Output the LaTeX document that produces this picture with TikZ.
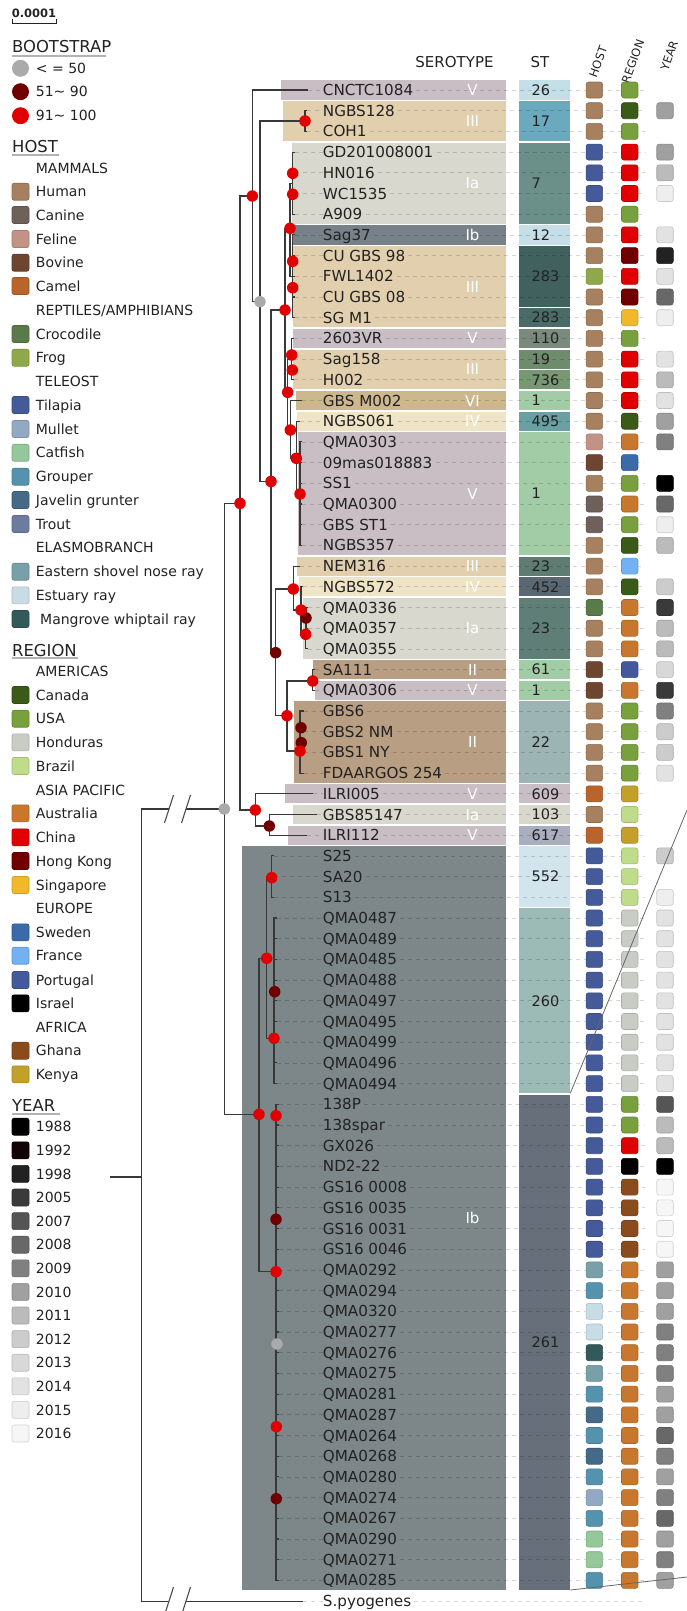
\documentclass[tikz,border=0pt]{standalone}
\usepackage{fontspec}
\setmainfont{DejaVu Sans}
\usetikzlibrary{calc}
\pgfdeclarelayer{bg}\pgfdeclarelayer{mid}\pgfsetlayers{bg,mid,main}
% host
\definecolor{hHuman}{HTML}{A6805F}\definecolor{hCanine}{HTML}{6E605B}\definecolor{hFeline}{HTML}{C29385}
\definecolor{hBovine}{HTML}{6E4630}\definecolor{hCamel}{HTML}{B8642A}\definecolor{hCroc}{HTML}{5A7A4A}
\definecolor{hFrog}{HTML}{8FA84A}\definecolor{hTilapia}{HTML}{455A98}\definecolor{hMullet}{HTML}{93A8C2}
\definecolor{hCatfish}{HTML}{94C89A}\definecolor{hGrouper}{HTML}{5592AE}\definecolor{hJavelin}{HTML}{456A88}
\definecolor{hTrout}{HTML}{6C7C9E}\definecolor{hESNR}{HTML}{78A0A8}\definecolor{hEstuary}{HTML}{C8DCE5}
\definecolor{hMangrove}{HTML}{335A5A}
% region
\definecolor{rCanada}{HTML}{3A5A18}\definecolor{rUSA}{HTML}{78A03C}\definecolor{rHonduras}{HTML}{C8CCC4}
\definecolor{rBrazil}{HTML}{BEDC8A}\definecolor{rAustralia}{HTML}{C8782E}\definecolor{rChina}{HTML}{E00000}
\definecolor{rHK}{HTML}{700000}\definecolor{rSingapore}{HTML}{F0B82A}\definecolor{rSweden}{HTML}{3A6AA8}
\definecolor{rFrance}{HTML}{72B2F2}\definecolor{rPortugal}{HTML}{44589C}\definecolor{rIsrael}{HTML}{000000}
\definecolor{rGhana}{HTML}{8A4C1C}\definecolor{rKenya}{HTML}{C2A02A}
% year
\definecolor{y1988}{HTML}{000000}\definecolor{y1992}{HTML}{120404}\definecolor{y1998}{HTML}{222222}
\definecolor{y2005}{HTML}{3A3A3A}\definecolor{y2007}{HTML}{555555}\definecolor{y2008}{HTML}{686868}
\definecolor{y2009}{HTML}{808080}\definecolor{y2010}{HTML}{A0A0A0}\definecolor{y2011}{HTML}{BBBBBB}
\definecolor{y2012}{HTML}{CCCCCC}\definecolor{y2013}{HTML}{D8D8D8}\definecolor{y2014}{HTML}{E2E2E2}
\definecolor{y2015}{HTML}{EEEEEE}\definecolor{y2016}{HTML}{F6F6F6}
% bootstrap
\definecolor{bsgray}{HTML}{AAAAAA}\definecolor{bsdark}{HTML}{700000}\definecolor{bsred}{HTML}{E00000}
% serotype
\definecolor{sV}{HTML}{C8BEC3}\definecolor{sIII}{HTML}{E2CFAE}\definecolor{sIa}{HTML}{D8D8CE}
\definecolor{sIbd}{HTML}{778187}\definecolor{sIb}{HTML}{7D8789}\definecolor{sVI}{HTML}{CDB88E}
\definecolor{sIV}{HTML}{EFE4C6}\definecolor{sII}{HTML}{B89E82}
% ST
\definecolor{st26}{HTML}{C4DFE8}\definecolor{st17}{HTML}{6AA9BE}\definecolor{st7}{HTML}{6A9089}
\definecolor{st283a}{HTML}{41615F}\definecolor{st283b}{HTML}{4B6B69}\definecolor{st110}{HTML}{7A8A7C}
\definecolor{st19}{HTML}{6E8C6C}\definecolor{st736}{HTML}{789874}\definecolor{stgreen}{HTML}{A2CCA6}
\definecolor{st495}{HTML}{6A9FA4}\definecolor{st23a}{HTML}{5F7C72}\definecolor{st452}{HTML}{5A6873}
\definecolor{st23b}{HTML}{5F7E75}\definecolor{st22}{HTML}{9CB5B4}\definecolor{st609}{HTML}{C8BEC3}
\definecolor{st103}{HTML}{D8D8CC}\definecolor{st617}{HTML}{ABAEBF}\definecolor{st552}{HTML}{D2E4EC}
\definecolor{st260}{HTML}{9CBAB6}\definecolor{st261}{HTML}{676F7B}
\definecolor{txt}{HTML}{222222}
\def\nonestr{none}
\newcommand\serband[6]{%
  \begin{pgfonlayer}{bg}\fill[#4] (#1,{90+(#2-1)*20.7-9.6}) rectangle (505.7,{90+(#3-1)*20.7+9.6});\end{pgfonlayer}
  \node[serolbl] (#6) at (472.5,{90+((#2+#3)/2-1)*20.7}) {#5};}
\newcommand\stband[5]{%
  \begin{pgfonlayer}{bg}\fill[#3] (518.7,{90+(#1-1)*20.7-9.6}) rectangle (570.3,{90+(#2-1)*20.7+9.6});\end{pgfonlayer}
  \node[stlbl] (#5) at (531.5,{90+((#1+#2)/2-1)*20.7}) {#4};}
\tikzset{
  tree/.style={draw=black!78, line width=1.1pt},
  bsnode/.style={circle, inner sep=0pt, minimum size=11.5pt, draw=none},
  leaflbl/.style={anchor=west, inner sep=0pt, text=txt, font=\fontsize{15.2}{17}\selectfont, text height=11pt, text depth=0pt},
  dashrow/.style={draw=black, draw opacity=0.16, line width=0.8pt, dash pattern=on 4pt off 4pt},
  sq/.style={rectangle, rounded corners=2.5pt, line width=0.6pt, minimum width=16.5pt, minimum height=16pt, inner sep=0pt},
  serolbl/.style={text=white, font=\fontsize{15}{17}\selectfont, inner sep=0pt, text height=11pt, text depth=0pt},
  stlbl/.style={anchor=west, text=txt, font=\fontsize{14.5}{17}\selectfont, inner sep=0pt, text height=10.5pt, text depth=0pt},
  hdr/.style={text=txt, font=\fontsize{15}{17}\selectfont, inner sep=0pt, text height=11pt, text depth=0pt},
  rothdr/.style={text=txt, font=\fontsize{11.5}{13}\selectfont, inner sep=0pt, rotate=70, anchor=west, text height=8.4pt, text depth=0pt},
  lhead/.style={anchor=west, text=txt, font=\fontsize{16.4}{18}\selectfont, inner sep=0pt, text height=12pt, text depth=0pt},
  ltext/.style={anchor=west, text=txt, font=\fontsize{14}{16}\selectfont, inner sep=0pt, text height=10.2pt, text depth=0pt},
  lsq/.style={rectangle, rounded corners=2pt, line width=0.6pt, minimum size=17pt, inner sep=0pt},
  lgline/.style={draw=black!30, line width=1.6pt},
  diag/.style={draw=black!60, line width=0.8pt}
}
\begin{document}
\begin{tikzpicture}[x=1pt,y=-1pt]
\useasboundingbox (0,0) rectangle (687,1611);

% ---------- scale bar ----------
\node[inner sep=0pt, font=\bfseries\fontsize{11.5}{13}\selectfont, text=txt] (scale) at (34,13) {0.0001};
\draw[draw=txt, line width=1pt] (12,19.5) -- (12,23.3) -- (56,23.3) -- (56,19.5);

% ---------- legend ----------
\node[lhead] (lgBoot) at (12,46.7) {BOOTSTRAP};
\draw[lgline] (12,56) -- (106,56);
\node[bsnode, minimum size=17pt, fill=bsgray] (lb1) at (20.5,68.3) {};
\node[ltext] (lb1t) at (35.7,68.3) {< = 50};
\node[bsnode, minimum size=17pt, fill=bsdark] (lb2) at (20.5,91.7) {};
\node[ltext] (lb2t) at (35.7,91.7) {51\textasciitilde{} 90};
\node[bsnode, minimum size=17pt, fill=bsred] (lb3) at (20.5,115.7) {};
\node[ltext] (lb3t) at (35.7,115.7) {91\textasciitilde{} 100};

\node[lhead] (lgHost) at (12,146.7) {HOST};
\draw[lgline] (12,155) -- (59,155);
\node[lhead] (lgReg) at (12,650) {REGION};
\draw[lgline] (12,658) -- (78,658);
\node[lhead] (lgYear) at (12,1105.7) {YEAR};
\draw[lgline] (12,1114) -- (59.7,1114);

\foreach \k/\yy/\t in {m/168.3/MAMMALS, t/381.7/TELEOST, e/547.7/ELASMOBRANCH,
  am/671/AMERICAS, ap/790/ASIA PACIFIC, eu/908.3/EUROPE, af/1027.3/AFRICA}
  {\node[ltext] (sub\k) at (35.7,\yy) {\t};}
\node[ltext] (subr) at (35.7,310) {REPTILES/AMPHIBIANS};

\foreach \k/\yy/\c/\t in {
  a/191.7/hHuman/Human, b/215/hCanine/Canine, c/239/hFeline/Feline, d/262.7/hBovine/Bovine, e/286/hCamel/Camel,
  f/334/hCroc/Crocodile, g/357.7/hFrog/Frog,
  h/405/hTilapia/Tilapia, i/429/hMullet/Mullet, j/452.7/hCatfish/Catfish, k/476.7/hGrouper/Grouper,
  l/500/hJavelin/Javelin grunter, m/524/hTrout/Trout,
  n/571.7/hESNR/Eastern shovel nose ray, o/595.3/hEstuary/Estuary ray,
  q/695/rCanada/Canada, r/718.7/rUSA/USA, s/742.3/rHonduras/Honduras, t/766/rBrazil/Brazil,
  u/813.3/rAustralia/Australia, v/837.3/rChina/China, w/861/rHK/Hong Kong, x/885/rSingapore/Singapore,
  y/932.3/rSweden/Sweden, z/955.7/rFrance/France, aa/980/rPortugal/Portugal, ab/1003.3/rIsrael/Israel,
  ac/1050.7/rGhana/Ghana, ad/1074.3/rKenya/Kenya}
  {\node[lsq, fill=\c, draw=\c!85!black] (lsq\k) at (20.5,\yy) {};
   \node[ltext] (lt\k) at (35.7,\yy) {\t};}
\node[lsq, fill=hMangrove, draw=hMangrove!85!black] (lsqp) at (20.5,619) {};
\node[ltext] (ltp) at (40,619) {Mangrove whiptail ray};

\foreach \i/\yr in {0/1988,1/1992,2/1998,3/2005,4/2007,5/2008,6/2009,7/2010,8/2011,9/2012,10/2013,11/2014,12/2015,13/2016}
  {\pgfmathsetmacro\yy{1126.7+\i*23.6}
   \node[lsq, fill=y\yr, draw=y\yr!85!black] (lsy\yr) at (20.5,\yy) {};
   \node[ltext] (lty\yr) at (35.7,\yy) {\yr};}

% ---------- headers ----------
\node[hdr] (hSero) at (454.5,62) {SEROTYPE};
\node[hdr] (hST) at (540,62) {ST};
\node[rothdr] (hHost) at (592.5,77) {HOST};
\node[rothdr] (hRegion) at (625,83) {REGION};
\node[rothdr] (hYear) at (664,70) {YEAR};

% ---------- serotype bands ----------
\serband{280.7}{1}{1}{sV}{V}{sb1}
\serband{282.7}{2}{3}{sIII}{III}{sb2}
\serband{291.7}{4}{7}{sIa}{Ia}{sb3}
\serband{292.7}{8}{8}{sIbd}{Ib}{sb4}
\serband{292.7}{9}{12}{sIII}{III}{sb5}
\serband{292.7}{13}{13}{sV}{V}{sb6}
\serband{292.7}{14}{15}{sIII}{III}{sb7}
\serband{296}{16}{16}{sVI}{VI}{sb8}
\serband{297.3}{17}{17}{sIV}{IV}{sb9}
\serband{298.3}{18}{23}{sV}{V}{sb10}
\serband{296.7}{24}{24}{sIII}{III}{sb11}
\serband{299.3}{25}{25}{sIV}{IV}{sb12}
\serband{303.3}{26}{28}{sIa}{Ia}{sb13}
\serband{313.3}{29}{29}{sII}{II}{sb14}
\serband{315}{30}{30}{sV}{V}{sb15}
\serband{294.3}{31}{34}{sII}{II}{sb16}
\serband{285}{35}{35}{sV}{V}{sb17}
\serband{293.3}{36}{36}{sIa}{Ia}{sb18}
\serband{288.3}{37}{37}{sV}{V}{sb19}
\serband{242.3}{38}{73}{sIb}{Ib}{sb20}

% ---------- ST blocks ----------
\stband{1}{1}{st26}{26}{st1}
\stband{2}{3}{st17}{17}{st2}
\stband{4}{7}{st7}{7}{st3}
\stband{8}{8}{st26}{12}{st4}
\stband{9}{11}{st283a}{283}{st5}
\stband{12}{12}{st283b}{283}{st6}
\stband{13}{13}{st110}{110}{st7}
\stband{14}{14}{st19}{19}{st8}
\stband{15}{15}{st736}{736}{st9}
\stband{16}{16}{stgreen}{1}{st10}
\stband{17}{17}{st495}{495}{st11}
\stband{18}{23}{stgreen}{1}{st12}
\stband{24}{24}{st23a}{23}{st13}
\stband{25}{25}{st452}{452}{st14}
\stband{26}{28}{st23b}{23}{st15}
\stband{29}{29}{stgreen}{61}{st16}
\stband{30}{30}{stgreen}{1}{st17}
\stband{31}{34}{st22}{22}{st18}
\stband{35}{35}{st609}{609}{st19}
\stband{36}{36}{st103}{103}{st20}
\stband{37}{37}{st617}{617}{st21}
\stband{38}{40}{st552}{552}{st22}
\stband{41}{49}{st260}{260}{st23}
\stband{50}{73}{st261}{261}{st24}

% ---------- tree internal nodes ----------
\coordinate (R) at (141.7,1177);
\coordinate (ING) at (224.3,809);
\coordinate (A) at (240,503.3);
\coordinate (IB) at (259,1114.3);
\coordinate (B) at (252.3,196);
\coordinate (F) at (255.3,810);
\coordinate (G) at (260,301.7);
\coordinate (N23) at (305,121);
\coordinate (C) at (271,481.5);
\coordinate (D) at (285,310);
\coordinate (H) at (275.7,652.7);
\coordinate (E) at (290,228.3);
\coordinate (J) at (287.7,392.3);
\coordinate (IAg) at (292.7,183.2);
\coordinate (K) at (292.7,276.3);
\coordinate (M13) at (291.7,359.1);
\coordinate (L) at (290.3,430);
\coordinate (P) at (296.3,458.3);
\coordinate (Q) at (300,494);
\coordinate (S) at (293.3,589);
\coordinate (T) at (301,610);
\coordinate (W) at (305.7,634.3);
\coordinate (U) at (306,618);
\coordinate (V2) at (287,715.7);
\coordinate (SA) at (312.7,681);
\coordinate (GB) at (300,751);
\coordinate (N37) at (269.3,826);
\coordinate (I1) at (266.7,958.3);
\coordinate (SG) at (271.7,877.7);
\coordinate (I2) at (274,1038.3);
\coordinate (I3) at (276,1271.7);

% ---------- leaves ----------
\foreach \r/\nm/\pa/\tx/\h/\rg/\yr in {
1/CNCTC1084/B/308.3/hHuman/rUSA/none,
2/NGBS128/N23/307/hHuman/rCanada/y2010,
3/COH1/N23/307/hHuman/rUSA/none,
4/GD201008001/IAg/295/hTilapia/rChina/y2010,
5/HN016/IAg/295/hTilapia/rChina/y2011,
6/WC1535/IAg/295/hTilapia/rChina/y2015,
7/A909/IAg/295/hHuman/rUSA/none,
8/Sag37/K/295/hHuman/rChina/y2014,
9/CU GBS 98/K/295/hHuman/rHK/y1998,
10/FWL1402/K/295/hFrog/rChina/y2014,
11/CU GBS 08/K/295/hHuman/rHK/y2008,
12/SG M1/K/295/hHuman/rSingapore/y2015,
13/2603VR/M13/294/hHuman/rUSA/none,
14/Sag158/M13/294/hHuman/rChina/y2014,
15/H002/M13/294/hHuman/rChina/y2011,
16/GBS M002/L/301.7/hHuman/rChina/y2014,
17/NGBS061/P/300/hHuman/rCanada/y2010,
18/QMA0303/Q/302/hFeline/rAustralia/y2009,
19/09mas018883/Q/302/hBovine/rSweden/none,
20/SS1/Q/302/hHuman/rUSA/y1988,
21/QMA0300/Q/302/hCanine/rAustralia/y2008,
22/GBS ST1/Q/302/hCanine/rUSA/y2015,
23/NGBS357/Q/302/hHuman/rCanada/y2011,
24/NEM316/S/300/hHuman/rFrance/none,
25/NGBS572/T/303.3/hHuman/rCanada/y2012,
26/QMA0336/U/308/hCroc/rAustralia/y2005,
27/QMA0357/U/308/hHuman/rAustralia/y2011,
28/QMA0355/W/308/hHuman/rAustralia/y2011,
29/SA111/SA/315/hBovine/rPortugal/y2013,
30/QMA0306/SA/315/hBovine/rAustralia/y2005,
31/GBS6/GB/304/hHuman/rUSA/y2009,
32/GBS2 NM/GB/304/hHuman/rUSA/y2012,
33/GBS1 NY/GB/304/hHuman/rUSA/y2012,
34/FDAARGOS 254/GB/304/hHuman/rUSA/y2014,
35/ILRI005/F/313.3/hCamel/rKenya/none,
36/GBS85147/N37/316.7/hHuman/rBrazil/none,
37/ILRI112/N37/306.7/hCamel/rKenya/none,
38/S25/SG/274/hTilapia/rBrazil/y2012,
39/SA20/SG/274/hTilapia/rBrazil/none,
40/S13/SG/274/hTilapia/rBrazil/y2015,
41/QMA0487/I2/276.5/hTilapia/rHonduras/y2014,
42/QMA0489/I2/276.5/hTilapia/rHonduras/y2014,
43/QMA0485/I2/276.5/hTilapia/rHonduras/y2014,
44/QMA0488/I2/276.5/hTilapia/rHonduras/y2014,
45/QMA0497/I2/276.5/hTilapia/rHonduras/y2014,
46/QMA0495/I2/276.5/hTilapia/rHonduras/y2014,
47/QMA0499/I2/276.5/hTilapia/rHonduras/y2014,
48/QMA0496/I2/276.5/hTilapia/rHonduras/y2014,
49/QMA0494/I2/276.5/hTilapia/rHonduras/y2014,
50/138P/I3/278.5/hTilapia/rUSA/y2007,
51/138spar/I3/278.5/hTilapia/rUSA/y2011,
52/GX026/I3/278.5/hTilapia/rChina/y2011,
53/ND2-22/I3/278.5/hTilapia/rIsrael/y1988,
54/GS16 0008/I3/278.5/hTilapia/rGhana/y2016,
55/GS16 0035/I3/278.5/hTilapia/rGhana/y2016,
56/GS16 0031/I3/278.5/hTilapia/rGhana/y2016,
57/GS16 0046/I3/278.5/hTilapia/rGhana/y2016,
58/QMA0292/I3/278.5/hESNR/rAustralia/y2010,
59/QMA0294/I3/278.5/hGrouper/rAustralia/y2010,
60/QMA0320/I3/278.5/hEstuary/rAustralia/y2010,
61/QMA0277/I3/278.5/hEstuary/rAustralia/y2009,
62/QMA0276/I3/278.5/hMangrove/rAustralia/y2009,
63/QMA0275/I3/278.5/hESNR/rAustralia/y2009,
64/QMA0281/I3/278.5/hGrouper/rAustralia/y2010,
65/QMA0287/I3/278.5/hJavelin/rAustralia/y2010,
66/QMA0264/I3/278.5/hGrouper/rAustralia/y2008,
67/QMA0268/I3/278.5/hJavelin/rAustralia/y2009,
68/QMA0280/I3/278.5/hGrouper/rAustralia/y2010,
69/QMA0274/I3/278.5/hMullet/rAustralia/y2009,
70/QMA0267/I3/278.5/hGrouper/rAustralia/y2008,
71/QMA0290/I3/278.5/hCatfish/rAustralia/y2010,
72/QMA0271/I3/278.5/hCatfish/rAustralia/y2009,
73/QMA0285/I3/278.5/hGrouper/rAustralia/y2010}
{
  \pgfmathsetmacro\yy{90+(\r-1)*20.7}
  \coordinate (t\r) at (\tx,\yy);
  \coordinate (e\r) at (645,\yy);
  \node[leaflbl] (l\r) at (322.7,\yy) {\nm};
  \begin{pgfonlayer}{mid}
    \draw[dashrow] (t\r) -- (l\r.west);
    \draw[dashrow] ([xshift=3pt]l\r.east) -- (e\r);
  \end{pgfonlayer}
  \draw[tree] (\pa) |- (t\r);
  \node[sq, fill=\h, draw=\h!85!black] (h\r) at (594.3,\yy) {};
  \node[sq, fill=\rg, draw=\rg!85!black] (g\r) at (629.7,\yy) {};
  \edef\tmp{\yr}\ifx\tmp\nonestr\else
    \node[sq, fill=\yr, draw=\yr!85!black] (y\r) at (665,\yy) {};
  \fi
}

% S.pyogenes
\coordinate (t74) at (303.3,1601.1);
\coordinate (e74) at (645,1601.1);
\node[leaflbl] (l74) at (322.7,1601.1) {S.pyogenes};
\begin{pgfonlayer}{mid}
  \draw[dashrow] (t74) -- (l74.west);
  \draw[dashrow] ([xshift=3pt]l74.east) -- (e74);
\end{pgfonlayer}

% ---------- tree edges ----------
\coordinate (stub) at (110,1177);
\coordinate (brA1) at (169,809); \coordinate (brA2) at (186,809);
\coordinate (brB1) at (169,1601.1); \coordinate (brB2) at (186,1601.1);
\draw[tree] (stub) -- (R);
\draw[tree] (R) |- (brA1);
\draw[tree] (brA2) -- (ING);
\draw[tree] (R) |- (brB1);
\draw[tree] (brB2) -- (t74);
\foreach \c in {brA1,brA2,brB1,brB2}
  {\draw[draw=black!70, line width=1.1pt] ($(\c)+(-4.5,14)$) -- ($(\c)+(4.5,-14)$);}

\foreach \p/\c in {ING/A, ING/IB, A/B, A/F, B/G, G/N23, G/C, C/D, C/H, D/E, D/J, E/IAg, E/K,
  J/M13, J/L, L/P, P/Q, H/S, H/V2, S/T, T/W, W/U, V2/SA, V2/GB, F/N37, IB/I1, IB/I3, I1/SG, I1/I2}
  {\draw[tree] (\p) |- (\c);}

% ---------- bootstrap circles ----------
\foreach \n in {ING, G}{\node[bsnode, fill=bsgray] (c\n) at (\n) {};}
\node[bsnode, fill=bsgray] (cx1) at (277,1344) {};
\foreach \n in {H, U, N37}{\node[bsnode, fill=bsdark] (c\n) at (\n) {};}
\foreach \k/\xx/\yy in {d1/301/727.7, d2/301.3/742.7, d3/274.7/991.7, d4/276/1219.3, d5/276.3/1498.7}
  {\node[bsnode, fill=bsdark] (c\k) at (\xx,\yy) {};}
\foreach \n in {A, IB, B, F, N23, C, D, E, J, L, P, Q, S, T, W, V2, SA, GB, I1, SG, I2, I3}
  {\node[bsnode, fill=bsred] (c\n) at (\n) {};}
\foreach \k/\xx/\yy in {r1/292.7/173.3, r2/292.7/194.3, r3/292.7/261.3, r4/292.7/287.7, r5/291.7/355,
  r6/292.3/370, r7/276/1115.7, r8/276.3/1426.7}
  {\node[bsnode, fill=bsred] (c\k) at (\xx,\yy) {};}

% ---------- zoom lines ----------
\coordinate (d1a) at (570.3,1093.2); \coordinate (d1b) at (687,810);
\coordinate (d2a) at (570.3,1590); \coordinate (d2b) at (687,1577);
\draw[diag] (d1a) -- (d1b);
\draw[diag] (d2a) -- (d2b);
\end{tikzpicture}
\end{document}
